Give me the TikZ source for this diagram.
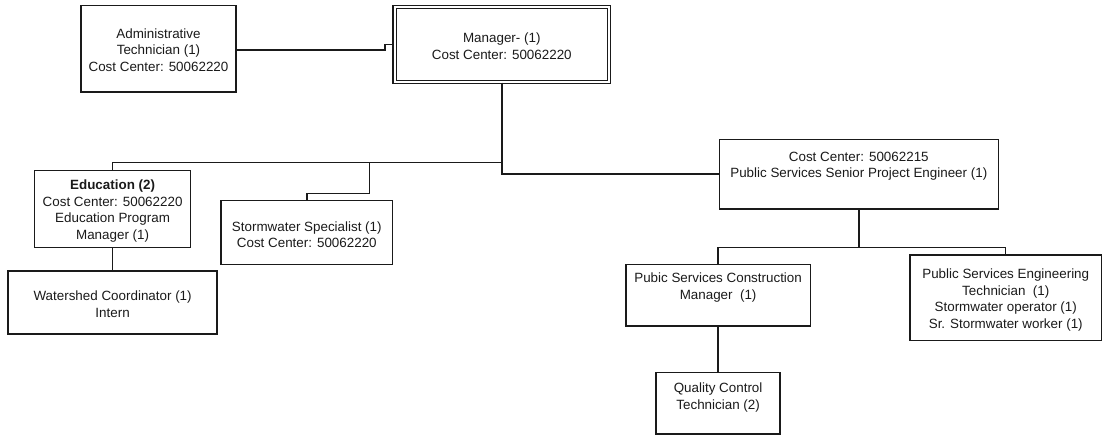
\documentclass[tikz,border=0pt]{standalone}
\usepackage{fontspec}
\setmainfont{Liberation Sans}
\usetikzlibrary{calc}
\definecolor{ink}{HTML}{1A1A1A}
\tikzset{
  box/.style={draw=ink, line width=1.4pt, rectangle, inner sep=0pt},
  dbox/.style={draw=ink, line width=1.1pt, double=white, double distance=2pt, rectangle, inner sep=0pt},
  txt/.style={text=ink, align=center, inner sep=0pt, font=\fontsize{13.4}{16.5}\selectfont},
  wire/.style={draw=ink, line width=1.4pt}
}
\begin{document}
\begin{tikzpicture}[x=1pt,y=-1pt]
\useasboundingbox (0,0) rectangle (1102,435);
% boxes
\node[box, minimum width=155pt, minimum height=86.7pt] (admin) at (158.5,48.7) {};
\node[dbox, minimum width=214.5pt, minimum height=75pt] (manager) at (501.8,44.5) {};
\node[box, minimum width=155.7pt, minimum height=77pt] (edu) at (112.6,209.2) {};
\node[box, minimum width=171.7pt, minimum height=63.6pt] (storm) at (306.8,232.5) {};
\node[box, minimum width=209pt, minimum height=63pt] (water) at (112.6,302.5) {};
\node[box, minimum width=279pt, minimum height=69.7pt] (senior) at (858.8,174.2) {};
\node[box, minimum width=184.3pt, minimum height=61.7pt] (constr) at (718.1,295.2) {};
\node[box, minimum width=191.5pt, minimum height=85.7pt] (eng) at (1005.75,297.9) {};
\node[box, minimum width=124pt, minimum height=61.3pt] (qual) at (718.1,403.4) {};
% texts
\node[txt] (admint) at (158.5,50) {Administrative\\Technician (1)\\Cost Center: 50062220};
\node[txt] (managert) at (501.8,46) {Manager- (1)\\Cost Center: 50062220};
\node[txt] (edut) at (112.6,211) {\textbf{Education (2)}\\Cost Center: 50062220\\Education Program\\Manager (1)};
\node[txt] (stormt) at (306.8,234.5) {Stormwater Specialist (1)\\Cost Center: 50062220};
\node[txt] (watert) at (112.6,304) {Watershed Coordinator (1)\\Intern};
\node[txt] (seniort) at (858.8,166) {Cost Center: 50062215\\Public Services Senior Project Engineer (1)};
\node[txt] (constrt) at (718.1,287.5) {Pubic Services Construction\\Manager\ \ (1)};
\node[txt] (engt) at (1005.75,300) {Public Services Engineering\\Technician\ \ (1)\\Stormwater operator (1)\\Sr. Stormwater worker (1)};
\node[txt] (qualt) at (718.1,397.5) {Quality Control\\Technician (2)};
% bus points
\coordinate (jog) at (385,50);
\coordinate (busL) at (501.8,162.3);
\coordinate (busS) at (369.3,162.3);
\coordinate (busS2) at (369.3,193.3);
\coordinate (busR) at (858.8,247.3);
% connectors
\draw[wire] (admin.east |- jog) -- (jog) -- (jog |- manager.west) -- (manager.west);
\draw[wire] (manager.south) |- (senior.west);
\draw[wire] (busL) -| (edu.north);
\draw[wire] (busS) -- (busS2) -| (storm.north);
\draw[wire] (edu.south) -- (water.north);
\draw[wire] (senior.south) -- (busR);
\draw[wire] (constr.north) |- (busR) -| (eng.north);
\draw[wire] (constr.south) -- (qual.north);
\end{tikzpicture}
\end{document}
